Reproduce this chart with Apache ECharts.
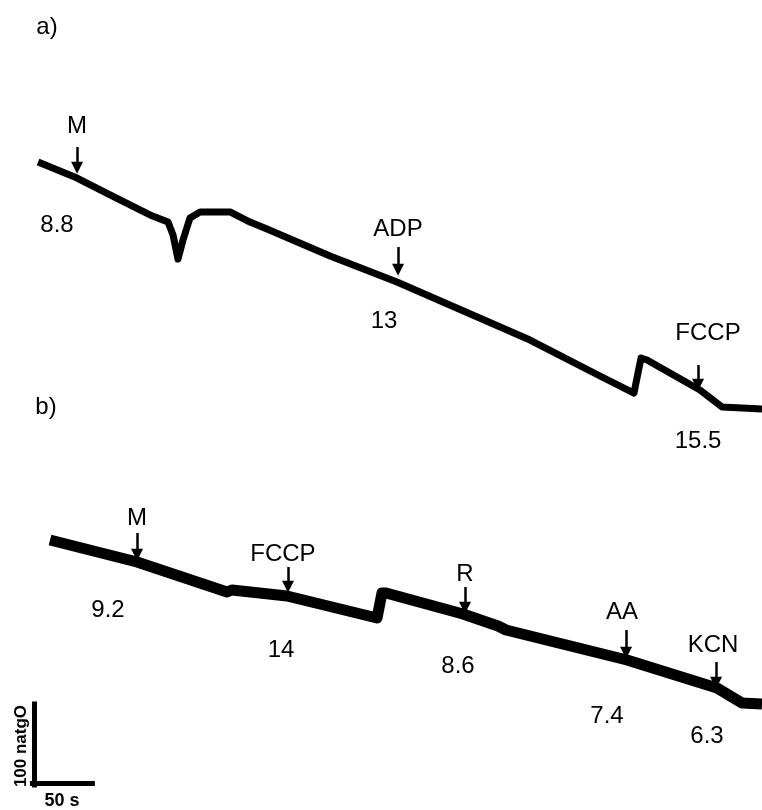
<!DOCTYPE html>
<html>
<head>
<meta charset="utf-8">
<script src="https://cdn.jsdelivr.net/npm/echarts@6/dist/echarts.min.js"></script>
<style>html,body{margin:0;padding:0;background:#fff}#c{width:762px;height:810px}</style>
</head>
<body>
<div id="c"></div>
<script>
// Trace a) : time (s) and oxygen (natgO, arbitrary baseline)
var timeA = [31.7, 64.2, 91.7, 125, 140, 144.2, 148.3, 152.5, 158.3, 166.7, 191.7, 208.3, 222.5, 275, 330.8, 441.7, 500, 528.3, 534.2, 539.2, 583.3, 601.7, 635];
var o2A   = [800, 780.2, 759.3, 734.6, 725.9, 709.9, 680.2, 703.7, 730.9, 738.3, 738.3, 725.9, 717.3, 684.0, 651.9, 580.2, 535.8, 514.8, 558.0, 555.6, 518.5, 497.5, 495.1];
// Trace b)
var timeB = [41.7, 114.2, 189.2, 193.3, 239.2, 314.2, 318.3, 321.7, 385.8, 415, 421.7, 522.5, 597.5, 618.3, 635];
var o2B   = [333.3, 306.2, 269.1, 271.6, 264.2, 237.0, 267.9, 267.9, 242.0, 227.2, 222.2, 185.2, 150.6, 132.1, 130.9];

// Additions (arrows): time, arrow top, arrow tip
var arrowTime = [64.2, 331.7, 581.7, 114.2, 240, 387.5, 521.7, 596.7];
var arrowTop  = [818.5, 695.1, 549.4, 342.0, 300, 275.3, 222.2, 182.7];
var arrowTip  = [786.4, 660.5, 518.5, 308.6, 269.1, 243.2, 187.7, 150.6];

// Text labels: text, time, level
var labelText = ['a)', 'M', '8.8', 'ADP', '13', 'FCCP', '15.5', 'b)', 'M', '9.2', 'FCCP', '14', 'R', '8.6', 'AA', '7.4', 'KCN', '6.3'];
var labelTime = [39.2, 64.2, 47.5, 331.7, 320, 590, 581.7, 38.3, 114.2, 90, 235.8, 234.2, 387.5, 381.7, 518.3, 505.8, 594.2, 589.2];
var labelO2   = [966.7, 844.4, 722.2, 717.3, 603.7, 588.9, 455.6, 497.5, 360.5, 246.9, 316, 197.5, 291.4, 177.8, 244.4, 116, 203.7, 91.4];

// Scale bar: origin (time, level), lengths
var scaleOrigin = [27, 30.9];
var scaleTime = 50;    // s
var scaleO2 = 100;     // natgO
var scaleLabels = ['100 natgO', '50 s'];

var font = 'Liberation Sans, Arial, sans-serif';
var headHalf = 6.5; // half arrow-head length, in natgO units

function zip(a, b) { return a.map(function (v, i) { return [v, b[i]]; }); }

var arrows = arrowTime.map(function (t, i) {
  return { coords: [[t, arrowTop[i]], [t, arrowTip[i] + headHalf]] };
});
var labels = labelText.map(function (s, i) {
  return { name: s, value: [labelTime[i], labelO2[i]] };
});
var sx = scaleOrigin[0], sy = scaleOrigin[1];
var scaleLines = [
  { coords: [[sx + 1.7, sy], [sx + 1.7, sy + scaleO2]] },
  { coords: [[sx, sy + 2.5], [sx + scaleTime, sy + 2.5]] }
];

var chart = echarts.init(document.getElementById('c'), null, { renderer: 'canvas' });
chart.setOption({
  animation: false,
  backgroundColor: '#ffffff',
  grid: { left: 0, right: 0, top: 0, bottom: 0 },
  xAxis: { type: 'value', min: 0, max: 635, show: false },
  yAxis: { type: 'value', min: 0, max: 1000, show: false },
  series: [
    { type: 'line', data: zip(timeA, o2A), showSymbol: false, symbol: 'none',
      lineStyle: { color: '#000', width: 7, join: 'round', cap: 'butt', opacity: 1 } },
    { type: 'line', data: zip(timeB, o2B), showSymbol: false, symbol: 'none',
      lineStyle: { color: '#000', width: 11, join: 'round', cap: 'butt', opacity: 1 } },
    { type: 'lines', coordinateSystem: 'cartesian2d', data: arrows,
      symbol: ['none', 'triangle'], symbolSize: 12,
      lineStyle: { color: '#000', width: 2.5, opacity: 1 } },
    { type: 'lines', coordinateSystem: 'cartesian2d', data: scaleLines,
      symbol: ['none', 'none'],
      lineStyle: { color: '#000', width: 5, opacity: 1, cap: 'square' } },
    { type: 'scatter', data: labels, symbolSize: 0, itemStyle: { opacity: 1 },
      label: { show: true, position: 'inside', formatter: '{b}', color: '#000',
        textBorderWidth: 0, opacity: 1, fontFamily: font, fontSize: 24 } },
    { type: 'scatter', symbolSize: 0, itemStyle: { opacity: 1 },
      data: [
        { name: scaleLabels[0], value: [17.5, 79], label: { rotate: 90, fontSize: 17 } },
        { name: scaleLabels[1], value: [51.7, 11], label: { fontSize: 18 } }
      ],
      label: { show: true, position: 'inside', color: '#000', textBorderWidth: 0, opacity: 1,
        fontFamily: font, fontWeight: 'bold', formatter: '{b}' } }
  ]
});
</script>
</body>
</html>
